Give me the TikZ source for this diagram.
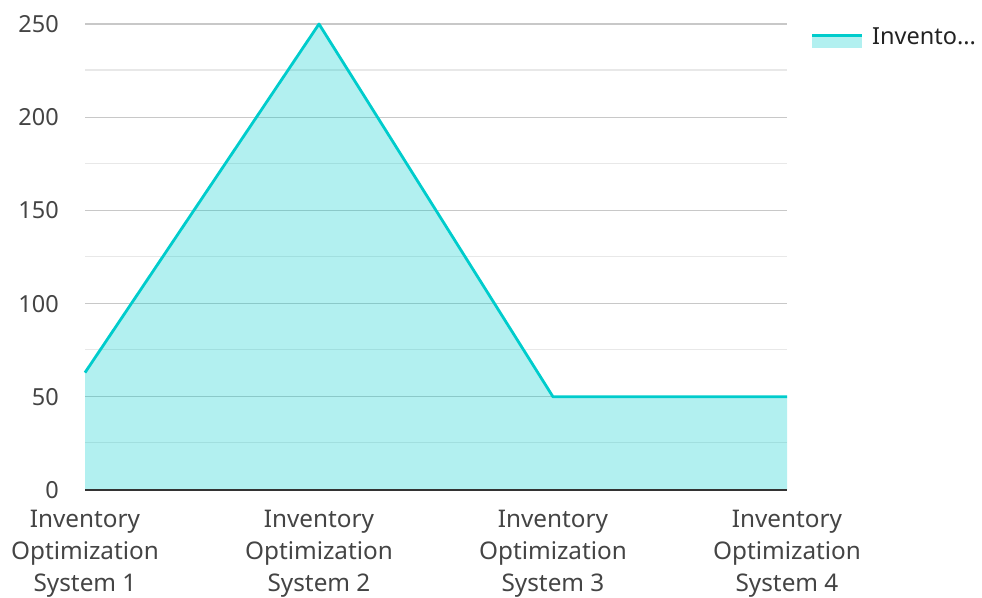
\documentclass[tikz,border=0pt]{standalone}
\usepackage{fontspec}
\setmainfont{Noto Sans}
\definecolor{teal1}{RGB}{0,204,204}
\definecolor{gridmaj}{RGB}{200,200,200}
\definecolor{gridmin}{RGB}{232,232,232}
\definecolor{txt}{RGB}{68,68,68}
\begin{document}
\begin{tikzpicture}[x=1pt,y=-1pt,
  ylab/.style={anchor=east,text=txt,font=\fontsize{23.5}{28}\selectfont,inner sep=0pt},
  xlab/.style={anchor=center,text=txt,font=\fontsize{24.3}{32}\selectfont,align=center,inner sep=0pt},
  majgrid/.style={draw=gridmaj,line width=1.3pt},
  mingrid/.style={draw=gridmin,line width=1.3pt}]
\useasboundingbox (0,0) rectangle (982,597);
% minor grid
\foreach \yy in {70,163.2,256.4,349.6,442.8}
  \draw[mingrid] (85,\yy) -- (787,\yy);
% major grid
\foreach \yy in {24,117.2,210.4,303.6,396.8}
  \draw[majgrid] (85,\yy) -- (787,\yy);
% data points
\coordinate (p1) at (85,372.6);
\coordinate (p2) at (319,24);
\coordinate (p3) at (553,396.8);
\coordinate (p4) at (787,396.8);
\coordinate (b1) at (85,490);
\coordinate (b4) at (787,490);
\fill[teal1,opacity=0.3] (b1) -- (p1) -- (p2) -- (p3) -- (p4) -- (b4) -- cycle;
\draw[teal1,line width=2.8pt,line join=round] (p1) -- (p2) -- (p3) -- (p4);
% axis
\draw[draw={rgb,255:red,51;green,51;blue,51},line width=1.8pt] (b1) -- (b4);
% y labels
\node[ylab] (y250) at (59,24) {250};
\node[ylab] (y200) at (59,117.2) {200};
\node[ylab] (y150) at (59,210.4) {150};
\node[ylab] (y100) at (59,303.6) {100};
\node[ylab] (y50) at (59,396.8) {50};
\node[ylab] (y0) at (59,490) {0};
% x labels
\node[xlab] (x1) at (85,553.5) {Inventory\\Optimization\\System 1};
\node[xlab] (x2) at (319,553.5) {Inventory\\Optimization\\System 2};
\node[xlab] (x3) at (553,553.5) {Inventory\\Optimization\\System 3};
\node[xlab] (x4) at (787,553.5) {Inventory\\Optimization\\System 4};
% legend
\fill[teal1,opacity=0.3] (812,35) rectangle (862,48);
\draw[teal1,line width=3pt] (812,35) -- (862,35);
\node[anchor=west,text={rgb,255:red,34;green,34;blue,34},font=\fontsize{23.5}{28}\selectfont,inner sep=0pt] (leg) at (872,36) {Invento...};
\end{tikzpicture}
\end{document}
